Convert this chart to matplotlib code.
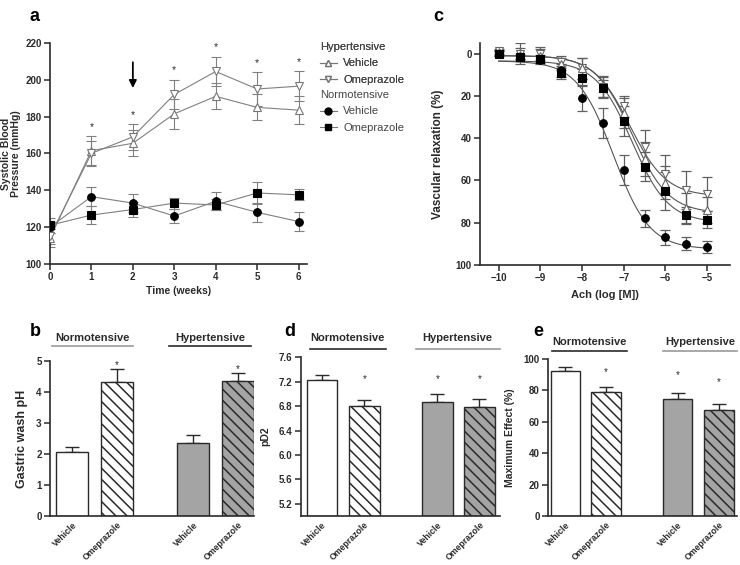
import numpy as np
import matplotlib
matplotlib.use("Agg")
import matplotlib.pyplot as plt
from matplotlib.lines import Line2D

plt.rcParams['font.family'] = ['Liberation Sans Narrow', 'Liberation Sans', 'DejaVu Sans']
plt.rcParams['hatch.linewidth'] = 1.1
plt.rcParams['axes.linewidth'] = 1.2

# === Panel a: systolic blood pressure over time ===
weeks = [0, 1, 2, 3, 4, 5, 6]
sbp_hyp_veh = [114, 161.5, 165.5, 181.5, 191, 185, 183.5]
sbp_hyp_veh_err = [5, 8, 7, 8, 7, 7, 7.5]
sbp_hyp_ome = [115, 160, 169, 192, 204.5, 195, 196.5]
sbp_hyp_ome_err = [4, 7, 7, 8, 8, 9, 8]
sbp_nor_veh = [120, 136.5, 133, 126, 134, 128, 123]
sbp_nor_veh_err = [3, 5, 5, 4, 5, 5, 5]
sbp_nor_ome = [121, 126.5, 129.5, 133, 132, 138.5, 137.5]
sbp_nor_ome_err = [4, 5, 4, 3, 3, 6, 3]
sbp_star_weeks = [1, 2, 3, 4, 5, 6]

# === Panel c: concentration-response to Ach ===
ach_log = [-10, -9.5, -9, -8.5, -8, -7.5, -7, -6.5, -6, -5.5, -5]
rel_nor_veh = [0, 1.5, 3, 8, 21, 33, 55, 78, 87, 90, 91.5]
rel_nor_veh_err = [1, 1, 2, 3, 6, 7, 7, 4, 3.5, 3, 3]
rel_nor_ome = [0, 1.5, 2.5, 9, 11.5, 16.5, 32, 53.5, 65, 76.5, 78.5]
rel_nor_ome_err = [1, 1, 2, 3, 4, 4, 7, 7, 9, 4, 4]
rel_hyp_veh = [-0.5, 0.5, 1, 5, 7, 15.5, 28, 50, 61, 73, 74]
rel_hyp_veh_err = [1, 3, 3, 3, 5, 5, 7, 8, 8, 7, 6]
rel_hyp_ome = [-1, 0, 0, 4, 7, 16, 25, 44, 57, 64.5, 66.5]
rel_hyp_ome_err = [1, 5, 3, 3, 5, 5, 5, 8, 9, 9, 8]
# fitted sigmoid parameters: top, bottom, logEC50
fit_nor_veh = [3.5, 92.5, -7.25]
fit_nor_ome = [3.5, 80, -6.8]
fit_hyp_veh = [1, 75.5, -6.8]
fit_hyp_ome = [1, 67.5, -6.85]

# === Bar panels (b, d, e) ===
bar_labels = ["Vehicle", "Omeprazole", "Vehicle", "Omeprazole"]
ph_vals = [2.07, 4.34, 2.37, 4.35]
ph_err = [0.17, 0.40, 0.24, 0.26]
pd2_vals = [7.23, 6.80, 6.87, 6.78]
pd2_err = [0.08, 0.10, 0.12, 0.14]
emax_vals = [92.2, 78.9, 74.3, 67.2]
emax_err = [2.8, 3.3, 3.7, 4.2]
ph_stars = [False, True, False, True]
pd2_stars = [False, True, True, True]
emax_stars = [False, True, True, True]

DARK = "#2a2a2a"


def style_axes(ax):
    for s in ["top", "right"]:
        ax.spines[s].set_visible(False)
    for s in ["left", "bottom"]:
        ax.spines[s].set_color(DARK)
    ax.tick_params(direction="out", length=4, width=1.1, color=DARK,
                   labelsize=7, labelcolor=DARK, pad=2)
    for lab in ax.get_xticklabels() + ax.get_yticklabels():
        lab.set_fontweight("bold")


fig = plt.figure(figsize=(7.4, 5.65), dpi=100)

# ---------------- Panel a ----------------
ax_a = fig.add_axes([0.0676, 0.533, 0.347, 0.391])
series_a = [
    (sbp_hyp_veh, sbp_hyp_veh_err, "^", "white", "#777777"),
    (sbp_hyp_ome, sbp_hyp_ome_err, "v", "white", "#777777"),
    (sbp_nor_veh, sbp_nor_veh_err, "o", "black", "black"),
    (sbp_nor_ome, sbp_nor_ome_err, "s", "black", "black"),
]
for vals, err, mk, fc, ec in series_a:
    ax_a.errorbar(weeks, vals, yerr=err, color="#808080", lw=0.8,
                  elinewidth=0.8, capsize=3.5, capthick=0.8, zorder=2)
    ax_a.plot(weeks, vals, linestyle="none", marker=mk, ms=5.5,
              mfc=fc, mec=ec, mew=0.8, zorder=3)
for w in sbp_star_weeks:
    top = max(sbp_hyp_veh[w] + sbp_hyp_veh_err[w], sbp_hyp_ome[w] + sbp_hyp_ome_err[w])
    ax_a.text(w, top + 5, "*", ha="center", va="center", fontsize=7.5, color=DARK)
ax_a.annotate("", xy=(2, 194), xytext=(2, 211),
              arrowprops=dict(arrowstyle="-|>", color="black", lw=1.3,
                              mutation_scale=11))
ax_a.set_xlim(0, 6.2)
ax_a.set_ylim(100, 220)
ax_a.set_xticks(range(0, 7))
ax_a.set_yticks(range(100, 221, 20))
ax_a.set_xlabel("Time (weeks)", fontsize=7.5, fontweight="bold", color=DARK, labelpad=3)
ax_a.set_ylabel("Systolic Blood\nPressure (mmHg)", fontsize=7.5, fontweight="bold",
                color=DARK, labelpad=3, linespacing=1.05)
style_axes(ax_a)

h_hyp = [Line2D([], [], color="#777777", lw=0.8, marker="^", ms=5, mfc="white", mec="#777777"),
         Line2D([], [], color="#777777", lw=0.8, marker="v", ms=5, mfc="white", mec="#777777")]
h_nor = [Line2D([], [], color="#777777", lw=0.8, marker="o", ms=5, mfc="black", mec="black"),
         Line2D([], [], color="#777777", lw=0.8, marker="s", ms=5, mfc="black", mec="black")]
leg_kw = dict(loc="upper left", frameon=False, fontsize=8, title_fontsize=8,
              alignment="left", handlelength=1.5, handletextpad=0.6,
              labelspacing=0.55, borderpad=0, labelcolor="#444444")
leg1 = fig.legend(h_hyp, ["Vehicle", "Omeprazole"], title="Hypertensive",
                  bbox_to_anchor=(0.425, 0.935), **leg_kw)
leg1.get_title().set_color("#444444")
leg2 = fig.legend(h_nor, ["Vehicle", "Omeprazole"], title="Normotensive",
                  bbox_to_anchor=(0.425, 0.85), **leg_kw)
leg2.get_title().set_color("#444444")
fig.add_artist(leg1)

# ---------------- Panel c ----------------
ax_c = fig.add_axes([0.6486, 0.531, 0.338, 0.393])
xfit = np.linspace(-10, -5, 200)
series_c = [
    (rel_hyp_ome, rel_hyp_ome_err, fit_hyp_ome, "v", "white", "#666666"),
    (rel_hyp_veh, rel_hyp_veh_err, fit_hyp_veh, "^", "white", "#666666"),
    (rel_nor_ome, rel_nor_ome_err, fit_nor_ome, "s", "black", "black"),
    (rel_nor_veh, rel_nor_veh_err, fit_nor_veh, "o", "black", "black"),
]
for vals, err, fit, mk, fc, ec in series_c:
    top, bottom, ec50 = fit
    yfit = top + (bottom - top) / (1 + 10 ** (ec50 - xfit))
    ax_c.plot(xfit, yfit, color="#555555", lw=0.8, zorder=2)
    ax_c.errorbar(ach_log, vals, yerr=err, linestyle="none", ecolor="#606060",
                  elinewidth=0.9, capsize=3.5, capthick=0.9, zorder=2)
    ax_c.plot(ach_log, vals, linestyle="none", marker=mk, ms=5.5,
              mfc=fc, mec=ec, mew=0.8, zorder=3)
ax_c.set_xlim(-10.45, -4.45)
ax_c.set_ylim(100, -5)
ax_c.set_xticks(range(-10, -4))
ax_c.set_yticks(range(0, 101, 20))
ax_c.set_xlabel("Ach (log [M])", fontsize=8, fontweight="bold", color=DARK, labelpad=5)
ax_c.set_ylabel("Vascular relaxation (%)", fontsize=8.5, fontweight="bold", color=DARK, labelpad=8)
style_axes(ax_c)

# ---------------- Bar panels ----------------
bar_colors = ["white", "white", "#a4a4a4", "#a4a4a4"]
bar_hatches = [None, "\\" * 3, None, "\\" * 3]


def bar_panel(rect, pos, vals, err, stars, ylim, yticks, ylabel, ylsize,
              star_off, lines, xlim, line_y, text_y, line_cols):
    ax = fig.add_axes(rect)
    for p, v, c, h in zip(pos, vals, bar_colors, bar_hatches):
        ax.bar(p, v - ylim[0], bottom=ylim[0], width=0.72, color=c, edgecolor=DARK,
               linewidth=1.0, hatch=h, zorder=2)
    ax.errorbar(pos, vals, yerr=[[0] * 4, err], linestyle="none", ecolor=DARK,
                elinewidth=1.0, capsize=5, capthick=1.0, zorder=1)
    for p, v, e, s, off in zip(pos, vals, err, stars, star_off):
        if s:
            ax.text(p, v + e + off, "*", ha="center", va="center", fontsize=7, color=DARK)
    ax.set_xlim(*xlim)
    ax.set_ylim(*ylim)
    ax.set_yticks(yticks)
    ax.set_xticks(pos)
    ax.set_xticklabels(bar_labels, rotation=45, ha="right", rotation_mode="anchor")
    ax.set_ylabel(ylabel, fontsize=ylsize, fontweight="bold", color=DARK, labelpad=6)
    style_axes(ax)
    ax.tick_params(axis="x", length=0, pad=3, labelsize=6.3)
    tr = ax.get_xaxis_transform()
    for (x0, x1), name, lc in zip(lines, ["Normotensive", "Hypertensive"], line_cols):
        ax.plot([x0, x1], [line_y, line_y], color=lc, lw=1.2, transform=tr, clip_on=False)
        ax.text((x0 + x1) / 2, text_y, name, transform=tr, ha="center", va="center",
                fontsize=8, fontweight="bold", color=DARK)
    return ax


ax_b = bar_panel([0.0676, 0.0867, 0.275, 0.274], [0, 1, 2.7, 3.7],
                 ph_vals, ph_err, ph_stars, (0, 5), range(0, 6),
                 "Gastric wash pH", 9, [0.15] * 4,
                 [(-0.45, 1.35), (2.15, 4.0)], (-0.5, 4.05), 1.10, 1.15,
                 ["#999999", DARK])
ax_d = bar_panel([0.4068, 0.0867, 0.269, 0.281], [0, 1, 2.72, 3.71],
                 pd2_vals, pd2_err, pd2_stars, (5.0, 7.6), np.arange(5.2, 7.61, 0.4),
                 "pD2", 7.5, [0.12, 0.35, 0.26, 0.33],
                 [(-0.28, 1.51), (2.21, 4.19)], (-0.49, 4.2), 1.05, 1.12,
                 [DARK, "#999999"])
ax_d.set_yticklabels([f"{v:.1f}" for v in np.arange(5.2, 7.61, 0.4)], fontweight="bold")
ax_e = bar_panel([0.7405, 0.0867, 0.256, 0.278], [0, 1, 2.76, 3.78],
                 emax_vals, emax_err, emax_stars, (0, 100), range(0, 101, 20),
                 "Maximum Effect (%)", 7.5, [0, 9.5, 12, 14],
                 [(-0.33, 1.52), (2.41, 4.23)], (-0.43, 4.23), 1.053, 1.108,
                 [DARK, "#999999"])

# panel letters
for x, y, s in [(0.04, 0.985, "a"), (0.585, 0.985, "c"), (0.04, 0.428, "b"),
                (0.384, 0.428, "d"), (0.72, 0.428, "e")]:
    fig.text(x, y, s, fontsize=13, fontweight="bold", color="black", va="top", ha="left")

fig.savefig("out.png", dpi=100)
